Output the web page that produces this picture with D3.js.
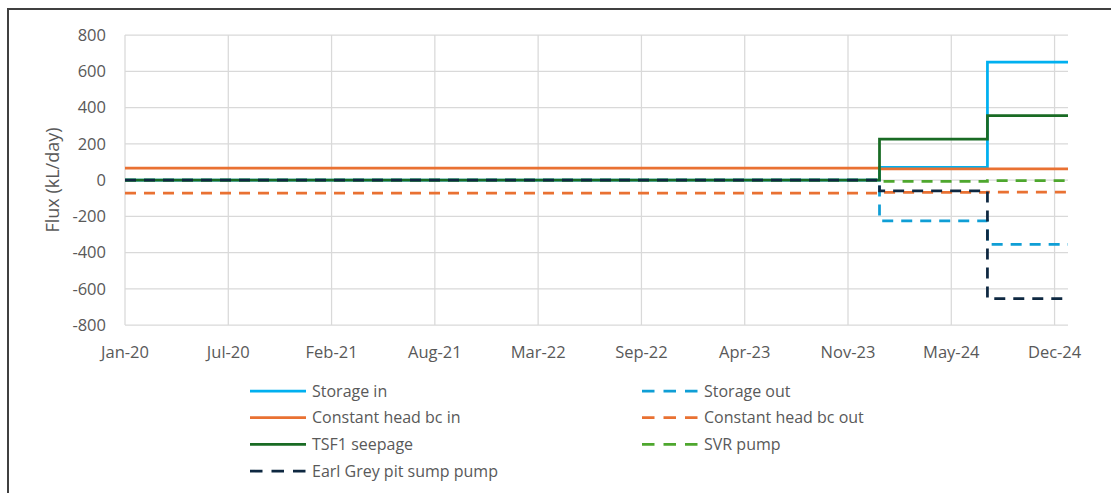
<!DOCTYPE html>
<html>
<head>
<meta charset="utf-8">
<script src="https://cdn.jsdelivr.net/npm/d3@7"></script>
<style>
  body { margin: 0; background: #fff; }
  svg text { font-family: "Open Sans", Lato, sans-serif; fill: #595959; }
</style>
</head>
<body>
<div id="chart"></div>
<script>
// step dates (stress periods) - each value holds until the next date
const stepDates = ["2020-01-01", "2024-01-01", "2024-07-28", "2024-12-31"];

const storageIn        = [0, 70, 650, 650];
const storageOut       = [0, -225, -355, -355];
const constantHeadIn   = [65, 62, 62, 62];
const constantHeadOut  = [-73, -68, -67, -67];
const tsf1Seepage      = [0, 225, 355, 355];
const svrPump          = [0, -8, -3, -3];
const earlGreyPump     = [0, -60, -655, -655];

const yTicks = [-800, -600, -400, -200, 0, 200, 400, 600, 800];

const seriesList = [
    { name: "Storage in", values: storageIn, color: "#00b0f0", dash: null },
    { name: "Storage out", values: storageOut, color: "#0f9ed5", dash: "11,8" },
    { name: "Constant head bc in", values: constantHeadIn, color: "#e97132", dash: null },
    { name: "Constant head bc out", values: constantHeadOut, color: "#e97132", dash: "11,8" },
    { name: "TSF1 seepage", values: tsf1Seepage, color: "#196b24", dash: null },
    { name: "SVR pump", values: svrPump, color: "#4ea72e", dash: "11,8" },
    { name: "Earl Grey pit sump pump", values: earlGreyPump, color: "#0e2841", dash: "11,8" }
];

const W = 1111, H = 493;
const margin = { top: 35, left: 125, right: W - 1068, bottom: H - 325 };

const parse = d3.utcParse("%Y-%m-%d");
const dates = stepDates.map(parse);

const svg = d3.select("#chart").append("svg")
    .attr("width", W)
    .attr("height", H);

// outer chart frame (runs off the picture at right and bottom)
svg.append("rect")
    .attr("x", 8).attr("y", 9)
    .attr("width", W + 20).attr("height", H + 20)
    .attr("fill", "none")
    .attr("stroke", "#404040")
    .attr("stroke-width", 2);

const x = d3.scaleUtc()
    .domain([dates[0], dates[dates.length - 1]])
    .range([margin.left, W - margin.right]);

const y = d3.scaleLinear()
    .domain([-800, 800])
    .range([H - margin.bottom, margin.top]);

// x ticks every 200 days, like the Excel date axis
const xTicks = d3.range(0, 1801, 200).map(d => d3.utcDay.offset(dates[0], d));
const fmt = d3.utcFormat("%b-%y");

// horizontal grid
svg.append("g")
    .selectAll("line")
    .data(yTicks)
    .join("line")
      .attr("x1", margin.left)
      .attr("x2", W - margin.right)
      .attr("y1", d => y(d))
      .attr("y2", d => y(d))
      .attr("stroke", "#d9d9d9")
      .attr("stroke-width", 1.25);

// vertical grid
svg.append("g")
    .selectAll("line")
    .data(xTicks)
    .join("line")
      .attr("x1", d => x(d))
      .attr("x2", d => x(d))
      .attr("y1", y(800))
      .attr("y2", y(-800))
      .attr("stroke", "#d9d9d9")
      .attr("stroke-width", 1.25);

// y tick labels
svg.append("g")
    .selectAll("text")
    .data(yTicks)
    .join("text")
      .attr("x", 106)
      .attr("y", d => y(d))
      .attr("dy", "0.36em")
      .attr("text-anchor", "end")
      .style("font-size", "16.5px")
      .text(d => d);

// x tick labels
svg.append("g")
    .selectAll("text")
    .data(xTicks)
    .join("text")
      .attr("x", d => x(d))
      .attr("y", 358)
      .attr("text-anchor", "middle")
      .style("font-size", "16.5px")
      .text(d => fmt(d));

// axis title
svg.append("text")
    .attr("transform", "translate(59," + y(0) + ") rotate(-90)")
    .attr("text-anchor", "middle")
    .style("font-size", "18px")
    .text("Flux (kL/day)");

const line = d3.line()
    .x((d, i) => x(dates[i]))
    .y(d => y(d))
    .curve(d3.curveStepAfter);

svg.append("g")
    .selectAll("path")
    .data(seriesList)
    .join("path")
      .attr("d", d => line(d.values))
      .attr("fill", "none")
      .attr("stroke", d => d.color)
      .attr("stroke-width", 2.75)
      .attr("stroke-dasharray", d => d.dash);

// legend, two columns filled row by row
const legend = svg.append("g");
seriesList.forEach(function (s, i) {
    const col = i % 2, row = Math.floor(i / 2);
    const lx = col === 0 ? 250 : 642;
    const ly = 391 + row * 26.7;
    legend.append("line")
        .attr("x1", lx).attr("x2", lx + 56)
        .attr("y1", ly).attr("y2", ly)
        .attr("stroke", s.color)
        .attr("stroke-width", 2.75)
        .attr("stroke-dasharray", s.dash ? "12.5,9" : null);
    legend.append("text")
        .attr("x", lx + 62)
        .attr("y", ly)
        .attr("dy", "0.35em")
        .style("font-size", "16px")
        .text(s.name);
});
</script>
</body>
</html>
